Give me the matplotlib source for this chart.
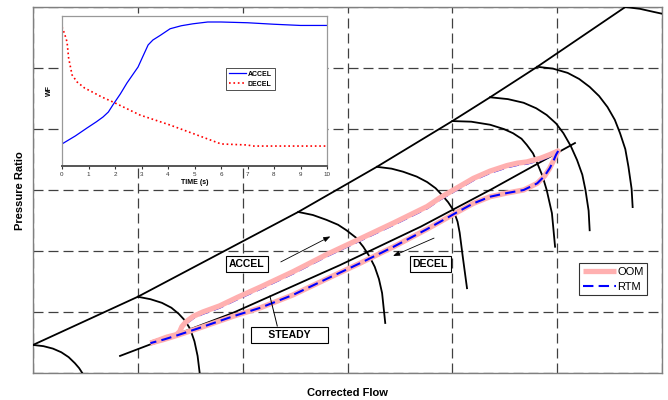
import matplotlib
matplotlib.use("Agg")
import matplotlib.pyplot as plt

plt.rcParams['font.family'] = ['Liberation Sans', 'DejaVu Sans']

# ---- compressor map (main axes, arbitrary units 0..6) ----
surge_x = [0.0, 1.0, 2.53, 3.28, 4.0, 4.36, 4.81, 5.65]
surge_y = [0.46, 1.25, 2.64, 3.38, 4.13, 4.52, 5.02, 6.0]

speed_lines = [
    ([0.0, 0.10, 0.19, 0.27, 0.34, 0.40, 0.44, 0.47],
     [0.46, 0.44, 0.40, 0.34, 0.26, 0.16, 0.08, 0.0]),
    ([1.0, 1.12, 1.23, 1.32, 1.39, 1.45, 1.50, 1.54, 1.57, 1.59],
     [1.25, 1.21, 1.15, 1.07, 0.97, 0.86, 0.72, 0.52, 0.28, 0.0]),
    ([2.53, 2.67, 2.80, 2.91, 2.99, 3.08, 3.15, 3.21, 3.26, 3.30, 3.33, 3.36],
     [2.64, 2.59, 2.51, 2.43, 2.34, 2.22, 2.07, 1.91, 1.74, 1.54, 1.31, 0.82]),
    ([3.28, 3.42, 3.53, 3.66, 3.76, 3.84, 3.90, 3.96, 4.01, 4.05, 4.07, 4.10, 4.14],
     [3.38, 3.35, 3.30, 3.22, 3.13, 3.03, 2.92, 2.80, 2.67, 2.48, 2.30, 1.90, 1.39]),
    ([4.0, 4.18, 4.36, 4.49, 4.58, 4.66, 4.71, 4.77, 4.81, 4.86, 4.90, 4.95, 4.98],
     [4.13, 4.12, 4.07, 4.00, 3.93, 3.84, 3.74, 3.60, 3.44, 3.23, 3.0, 2.62, 2.07]),
    ([4.36, 4.53, 4.68, 4.80, 4.90, 4.99, 5.06, 5.13, 5.19, 5.24, 5.27, 5.30, 5.31],
     [4.52, 4.49, 4.43, 4.34, 4.23, 4.09, 3.93, 3.72, 3.49, 3.25, 3.0, 2.66, 2.34]),
    ([4.81, 4.96, 5.10, 5.21, 5.31, 5.40, 5.48, 5.55, 5.60, 5.65, 5.68, 5.71, 5.72],
     [5.02, 4.99, 4.92, 4.82, 4.69, 4.54, 4.36, 4.15, 3.93, 3.67, 3.38, 3.02, 2.72]),
    ([5.65, 5.79, 5.92, 6.0], [6.0, 5.97, 5.92, 5.89]),
]

steady_x = [0.83, 1.90, 2.93, 3.70, 4.36, 5.17]
steady_y = [0.28, 0.98, 1.77, 2.40, 3.0, 3.77]

# OOM transient loop: accel (upper) then decel (lower)
oom_x = [1.12, 1.28, 1.37, 1.40, 1.42, 1.46, 1.53, 1.62, 1.78, 1.95, 2.17, 2.48, 2.81, 3.12, 3.44,
         3.76, 3.88, 4.07, 4.20, 4.36, 4.52, 4.62, 4.71, 4.84, 4.93, 5.01,
         4.99, 4.97, 4.93, 4.88, 4.81, 4.74, 4.68, 4.52, 4.36, 4.20, 4.05, 3.76, 3.44, 3.12, 2.81,
         2.48, 2.17, 1.91, 1.59, 1.38, 1.25, 1.12]
oom_y = [0.49, 0.59, 0.63, 0.68, 0.76, 0.84, 0.93, 1.00, 1.10, 1.24, 1.41, 1.66, 1.95, 2.20, 2.46,
         2.73, 2.87, 3.06, 3.19, 3.31, 3.40, 3.44, 3.46, 3.52, 3.58, 3.64,
         3.58, 3.50, 3.36, 3.23, 3.11, 3.05, 3.0, 2.95, 2.89, 2.78, 2.64, 2.36, 2.07, 1.80, 1.55,
         1.28, 1.07, 0.93, 0.74, 0.62, 0.55, 0.49]

# RTM: upper branch sits just under the OOM trace, lower branch on top of it
rtm_up_x = [1.37, 1.40, 1.42, 1.46, 1.53, 1.62, 1.78, 1.95, 2.17, 2.48, 2.81, 3.12, 3.44,
            3.76, 3.88, 4.07, 4.20, 4.36, 4.52, 4.62, 4.71, 4.84, 4.93, 5.01]
rtm_up_y = [0.61, 0.66, 0.73, 0.81, 0.90, 0.97, 1.07, 1.21, 1.38, 1.63, 1.92, 2.17, 2.43,
            2.70, 2.84, 3.03, 3.16, 3.28, 3.37, 3.41, 3.43, 3.49, 3.55, 3.62]
rtm_dn_x = [5.01, 4.99, 4.97, 4.93, 4.88, 4.81, 4.74, 4.68, 4.52, 4.36, 4.20, 4.05, 3.76, 3.44,
            3.12, 2.81, 2.48, 2.17, 1.91, 1.59, 1.38, 1.25, 1.12]
rtm_dn_y = [3.64, 3.58, 3.50, 3.36, 3.23, 3.11, 3.05, 3.0, 2.95, 2.89, 2.78, 2.64, 2.36, 2.07,
            1.80, 1.55, 1.28, 1.07, 0.93, 0.74, 0.62, 0.55, 0.49]

# ---- inset: fuel flow vs time ----
accel_t = [0, 0.5, 0.94, 1.3, 1.55, 1.75, 1.92, 2.2, 2.45, 2.87, 3.05, 3.25, 3.43, 3.7, 4.08,
           4.5, 4.94, 5.5, 6, 7, 8, 9, 10]
accel_wf = [0.147, 0.20, 0.253, 0.295, 0.327, 0.36, 0.407, 0.48, 0.553, 0.66, 0.73, 0.807, 0.84,
            0.87, 0.915, 0.935, 0.948, 0.96, 0.96, 0.955, 0.945, 0.937, 0.937]
decel_t = [0, 0.1, 0.19, 0.25, 0.38, 0.57, 0.85, 1.18, 1.5, 1.92, 2.94, 4.08, 5.09, 6, 7, 7.2, 10]
decel_wf = [0.927, 0.88, 0.827, 0.72, 0.607, 0.56, 0.52, 0.49, 0.46, 0.427, 0.34, 0.273, 0.207,
            0.147, 0.14, 0.133, 0.133]

fig = plt.figure(figsize=(6.68, 4.0), dpi=100)
ax = fig.add_axes([33/668, 27/400, 629/668, 366/400])
ax.set_xlim(0, 6)
ax.set_ylim(0, 6)
ax.set_xticks(range(7))
ax.set_yticks(range(7))
ax.tick_params(length=0, labelbottom=False, labelleft=False)
ax.grid(True, color='#404040', lw=0.9, dashes=(8, 4))
for s in ax.spines.values():
    s.set_color('#808080')
    s.set_linewidth(1.0)

ax.plot(surge_x, surge_y, color='black', lw=1.3, zorder=3)
for sx, sy in speed_lines:
    ax.plot(sx, sy, color='black', lw=1.3, zorder=3)
ax.plot(steady_x, steady_y, color='black', lw=1.3, zorder=3)

ax.plot(rtm_up_x, rtm_up_y, color='blue', lw=1.5, dashes=(5, 2.5), zorder=4)
ax.plot(oom_x, oom_y, color='#ffb0b0', lw=3.8, solid_capstyle='butt', solid_joinstyle='round',
        zorder=5, label='OOM')
ax.plot(rtm_dn_x, rtm_dn_y, color='blue', lw=1.5, dashes=(5, 2.5), zorder=6, label='RTM')

box = dict(boxstyle='square,pad=0.28', fc='white', ec='black', lw=0.8)
ax.text(2.04, 1.79, 'ACCEL', fontsize=7.5, fontweight='bold', ha='center', va='center', bbox=box, zorder=7)
ax.text(3.79, 1.79, 'DECEL', fontsize=7.5, fontweight='bold', ha='center', va='center', bbox=box, zorder=7)
ax.text(2.45, 0.62, '     STEADY     ', fontsize=7.5, fontweight='bold', ha='center', va='center',
        bbox=box, zorder=7)
ax.plot([2.26, 2.33], [1.26, 0.77], color='black', lw=0.7, zorder=6)

arrow = dict(arrowstyle='-|>,head_length=0.4,head_width=0.15', color='black', lw=0.6)
ax.annotate('', xy=(2.86, 2.26), xytext=(2.34, 1.80), arrowprops=arrow, zorder=7)
ax.annotate('', xy=(3.41, 1.90), xytext=(3.85, 2.23), arrowprops=arrow, zorder=7)

leg = ax.legend(loc='upper right', bbox_to_anchor=(0.976, 0.30), fontsize=8, frameon=True,
                fancybox=False, handlelength=3.0, handletextpad=0.1, borderpad=0.3,
                labelspacing=0.5, borderaxespad=0)
leg.get_frame().set_edgecolor('black')
leg.get_frame().set_linewidth(0.8)

fig.text(347/668, 1 - 393/400, 'Corrected Flow', fontsize=8, fontweight='bold', ha='center', va='center')
fig.text(20/668, 1 - 191/400, 'Pressure Ratio', fontsize=8, fontweight='bold', ha='center', va='center',
         rotation=90)

# inset
ins = fig.add_axes([62/668, 1 - 166/400, 265/668, 150/400])
ins.set_facecolor('white')
ins.plot(accel_t, accel_wf, color='blue', lw=0.9, label='ACCEL')
ins.plot(decel_t, decel_wf, color='red', lw=1.2, ls=':', label='DECEL')
ins.set_xlim(0, 10)
ins.set_ylim(0, 1)
ins.set_xticks(range(11))
ins.set_yticks([])
ins.tick_params(axis='x', labelsize=4.5, length=2, width=0.8, pad=2, colors='#333333')
for k, s in ins.spines.items():
    s.set_color('#999999')
    s.set_linewidth(0.9)
ins.spines['bottom'].set_color('#555555')
ins.spines['bottom'].set_linewidth(1.4)
ins.set_xlabel('TIME (s)', fontsize=5, fontweight='bold', labelpad=2)
fig.text(49/668, 1 - 91/400, 'WF', fontsize=5, fontweight='bold', rotation=90, ha='center', va='center')
il = ins.legend(loc='upper left', bbox_to_anchor=(0.62, 0.653), prop={'size': 5, 'weight': 'bold'},
                fancybox=False, handlelength=2.4, handletextpad=0.3, borderpad=0.4,
                labelspacing=0.4, borderaxespad=0)
il.get_frame().set_edgecolor('black')
il.get_frame().set_linewidth(0.6)

fig.savefig('out.png', dpi=100)
